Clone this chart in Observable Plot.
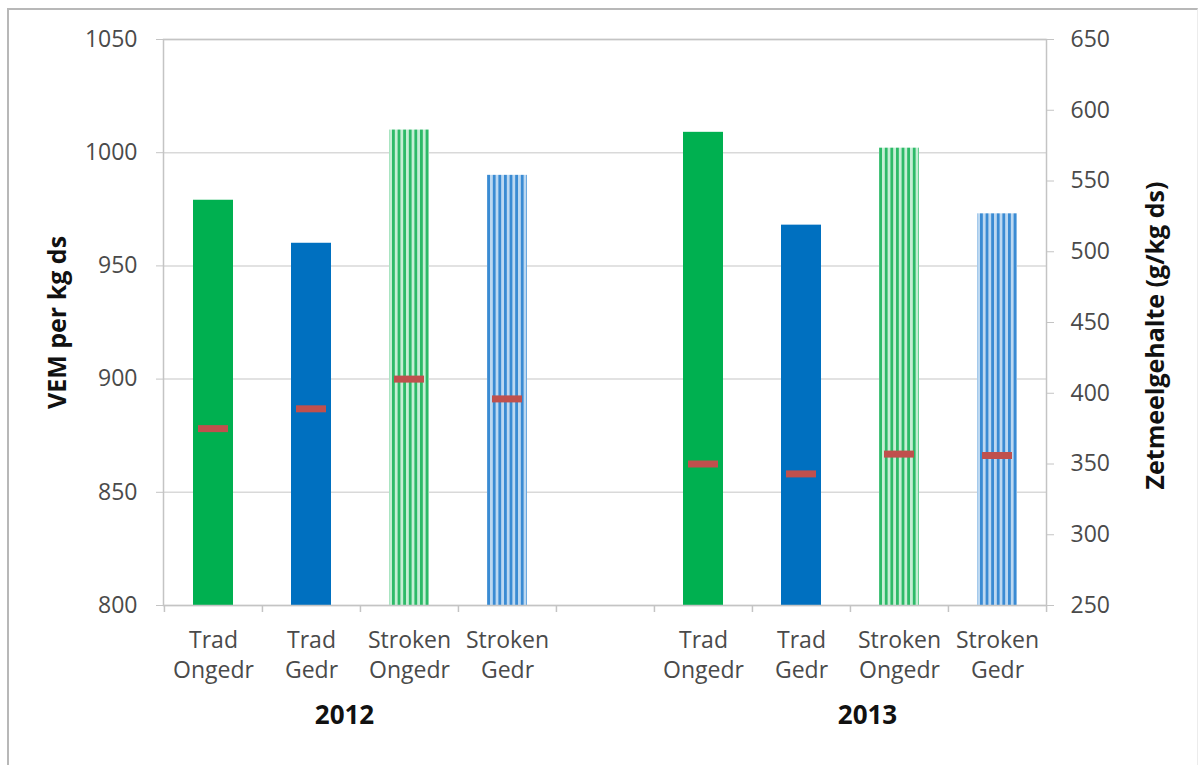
<!DOCTYPE html>
<html>
<head>
<meta charset="utf-8">
<script src="https://cdn.jsdelivr.net/npm/d3@7"></script>
<script src="https://cdn.jsdelivr.net/npm/@observablehq/plot@0.6"></script>
<style>
  html, body { margin: 0; padding: 0; background: #fff; }
  #wrap { position: relative; width: 1198px; height: 765px; overflow: hidden; }
  #border { position: absolute; left: 7px; top: 8px; width: 1188px; height: 800px;
            border-left: 2px solid #b8b8b8; border-top: 2px solid #b8b8b8; border-right: 1px solid #ececec; }
  svg { display: block; }
</style>
</head>
<body>
<div id="wrap"><div id="border"></div></div>
<script>
// Treatments per harvest year
const years = ["2012", "2013"];
const treatments = ["Trad Ongedr", "Trad Gedr", "Stroken Ongedr", "Stroken Gedr"];

// VEM per kg ds (left axis)
const vem2012 = [979, 960, 1010, 990];
const vem2013 = [1009, 968, 1002, 973];

// Zetmeelgehalte g/kg ds (right axis)
const zetmeel2012 = [375, 389, 410, 396];
const zetmeel2013 = [350, 343, 357, 356];

// Axis ticks
const vemTicks = [800, 850, 900, 950, 1000, 1050];
const zetmeelTicks = [250, 300, 350, 400, 450, 500, 550, 600, 650];

// Map the right-axis scale onto the left one
const vemDomain = [800, 1050];
const zetDomain = [250, 650];
const toLeft = z => vemDomain[0] + (z - zetDomain[0]) * (vemDomain[1] - vemDomain[0]) / (zetDomain[1] - zetDomain[0]);
const fromLeft = v => zetDomain[0] + (v - vemDomain[0]) * (zetDomain[1] - zetDomain[0]) / (vemDomain[1] - vemDomain[0]);

const GAP = "gap";
const vemByYear = {"2012": vem2012, "2013": vem2013};
const zetByYear = {"2012": zetmeel2012, "2013": zetmeel2013};

const rows = [];
years.forEach(year => {
  treatments.forEach((t, i) => {
    const striped = t.startsWith("Stroken");
    const green = t.endsWith("Ongedr");
    rows.push({
      key: year + " " + t,
      year,
      treatment: t,
      vem: vemByYear[year][i],
      zetmeel: zetByYear[year][i],
      fill: striped ? (green ? "url(#stripes-green)" : "url(#stripes-blue)") : (green ? "#00b050" : "#0070c0")
    });
  });
});

const domain = [...treatments.map(t => "2012 " + t), GAP, ...treatments.map(t => "2013 " + t)];
const step = 883 / domain.length;

const font = "'Open Sans', 'DejaVu Sans', sans-serif";
const axisGray = "#c4c4c4";
const labelGray = "#4a4a4a";

const yearLabel = (year, dx) =>
  Plot.text([year], {x: () => year + " " + treatments[1], text: d => d, frameAnchor: "bottom", lineAnchor: "middle",
    dx, dy: 110, fontWeight: "bold", fontSize: 26, fill: "#111"});

const chart = Plot.plot({
  width: 1198,
  height: 765,
  marginLeft: 163,
  marginRight: 152,
  marginTop: 39,
  marginBottom: 160,
  style: {fontFamily: font, fontSize: "23px", background: "transparent", overflow: "visible"},
  x: {type: "band", domain, padding: 0, axis: null},
  y: {domain: vemDomain, axis: null},
  color: {type: "identity"},
  marks: [
    Plot.ruleY(vemTicks, {stroke: "#d9d9d9", strokeWidth: 1.5}),
    Plot.barY(rows, {x: "key", y1: vemDomain[0], y2: "vem", fill: "fill", insetLeft: 29, insetRight: 29}),
    Plot.tickY(rows, {x: "key", y: d => toLeft(d.zetmeel), stroke: "#c0504d", strokeWidth: 7, insetLeft: 34, insetRight: 34}),
    Plot.frame({stroke: axisGray, strokeWidth: 1.5}),
    // category boundary ticks below the x axis
    Plot.ruleX(domain, {x: d => d, dx: -step / 2, insetTop: 566, insetBottom: -7, stroke: axisGray, strokeWidth: 1.5}),
    Plot.ruleX([domain[domain.length - 1]], {x: d => d, dx: step / 2, insetTop: 566, insetBottom: -7, stroke: axisGray, strokeWidth: 1.5}),
    Plot.axisY({ticks: vemTicks, tickSize: 7, tickPadding: 19, stroke: axisGray, fill: labelGray, fontSize: 23, label: null, tickFormat: d => String(d)}),
    Plot.axisY({anchor: "right", ticks: zetmeelTicks.map(toLeft), tickSize: 7, tickPadding: 17, stroke: axisGray, fill: labelGray, fontSize: 23, label: null, tickFormat: d => String(Math.round(fromLeft(d)))}),
    Plot.text(rows, {x: "key", frameAnchor: "bottom", lineAnchor: "middle", dy: 48, text: d => d.treatment.replace(" ", "\n"), lineHeight: 1.3, fill: labelGray, fontSize: 23}),
    yearLabel("2012", 33),
    yearLabel("2013", 66),
    Plot.text(["VEM per kg ds"], {frameAnchor: "left", textAnchor: "middle", lineAnchor: "middle", dx: -106, rotate: -90, fontWeight: "bold", fontSize: 25, fill: "#111"}),
    Plot.text(["Zetmeelgehalte (g/kg ds)"], {frameAnchor: "right", textAnchor: "middle", lineAnchor: "middle", dx: 109, dy: 13, rotate: -90, fontWeight: "bold", fontSize: 25, fill: "#111"})
  ]
});

// striped fills for the "Stroken" bars
d3.select(chart).insert("defs", ":first-child").html(`
  <pattern id="stripes-green" patternUnits="userSpaceOnUse" width="5.6" height="10">
    <rect width="5.6" height="10" fill="#c5eed5"/>
    <rect width="2.8" height="10" fill="#2dba68"/>
  </pattern>
  <pattern id="stripes-blue" patternUnits="userSpaceOnUse" width="5.6" height="10">
    <rect width="5.6" height="10" fill="#bcd8f1"/>
    <rect width="2.8" height="10" fill="#3a8bd3"/>
  </pattern>`);

document.getElementById("wrap").prepend(chart);
</script>
</body>
</html>
